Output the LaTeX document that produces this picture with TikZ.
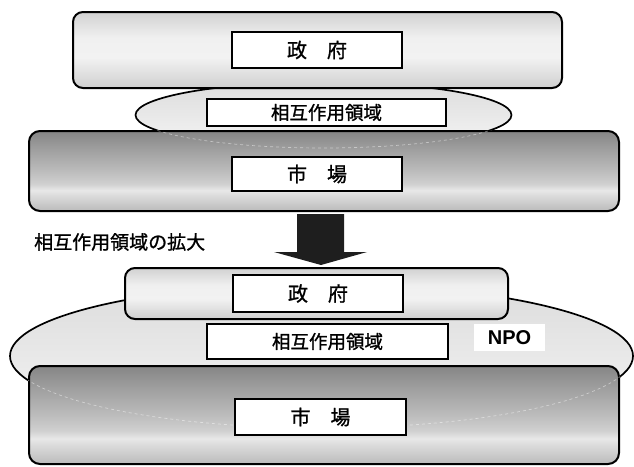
\documentclass[tikz,border=0pt]{standalone}
\usepackage{fontspec}
\usetikzlibrary{shapes.geometric}
\newfontfamily\jp{Noto Sans CJK JP}[FakeBold=1.2]
\newfontfamily\npofont{Liberation Sans}
\definecolor{gA}{HTML}{7E7E7E}
\definecolor{gB}{HTML}{9A9A9A}
\definecolor{gC}{HTML}{CFCFCF}
\definecolor{gD}{HTML}{F2F2F2}
\definecolor{gE}{HTML}{F0F0F0}
\definecolor{gF}{HTML}{CCCCCC}
\definecolor{gG}{HTML}{9A9A9A}
\definecolor{gH}{HTML}{747474}
\definecolor{mA}{HTML}{4A4A4A}
\definecolor{mB}{HTML}{5A5A5A}
\definecolor{mC}{HTML}{888888}
\definecolor{mD}{HTML}{BBBBBB}
\definecolor{mE}{HTML}{DCDCDC}
\definecolor{mF}{HTML}{E8E8E8}
\definecolor{mG}{HTML}{D0D0D0}
\definecolor{mH}{HTML}{BCBCBC}
\definecolor{mI}{HTML}{9C9C9C}
\definecolor{mJ}{HTML}{7A7A7A}
\definecolor{mK}{HTML}{555555}
\definecolor{mL}{HTML}{333333}
\definecolor{ellA}{HTML}{DCDCDC}
\definecolor{ellB}{HTML}{F5F5F5}
\definecolor{arrowc}{HTML}{1E1E1E}
\pgfdeclareverticalshading{govshade}{100bp}{color(0bp)=(gA); color(8bp)=(gB); color(25bp)=(gC); color(45bp)=(gD); color(58bp)=(gE); color(78bp)=(gF); color(92bp)=(gG); color(100bp)=(gH)}
\pgfdeclareverticalshading{mktshade}{100bp}{color(0bp)=(mA); color(4bp)=(mB); color(12bp)=(mC); color(25bp)=(mD); color(35bp)=(mE); color(38bp)=(mF); color(42bp)=(mG); color(50bp)=(mH); color(65bp)=(mI); color(80bp)=(mJ); color(93bp)=(mK); color(100bp)=(mL)}
\tikzset{
  govbar/.style={draw=black, line width=2pt, rounded corners=10pt, shading=govshade, rectangle, inner sep=0pt},
  mktbar/.style={draw=black, line width=2pt, rounded corners=11pt, shading=mktshade, rectangle, inner sep=0pt},
  ellip/.style={draw=black, line width=1.7pt, ellipse, top color=ellA, bottom color=ellB, inner sep=0pt},
  ghost/.style={draw=white, opacity=0.45, dashed, line width=0.7pt},
  labelbox/.style={draw=black, line width=2pt, fill=white, rectangle, inner sep=0pt},
  bigtext/.style={font=\jp\fontsize{20}{22}\selectfont},
  midtext/.style={font=\jp\fontsize{18.5}{20}\selectfont},
}
\begin{document}
\begin{tikzpicture}[x=1pt,y=-1pt]
\useasboundingbox (0,0) rectangle (634,466);
% ---- upper diagram ----
\node[ellip, minimum width=376, minimum height=66] (ell1) at (323.5,115) {};
\node[govbar, minimum width=489, minimum height=76] (gbar1) at (317.5,50) {};
\node[mktbar, minimum width=590, minimum height=80] (mbar1) at (324,171) {};
\begin{scope}
  \clip (mbar1.north west) rectangle (mbar1.south east);
  \draw[ghost] (ell1.center) ellipse [x radius=188, y radius=33];
\end{scope}
\node[labelbox, minimum width=170, minimum height=36, bigtext] (gov1) at (317,50) {政　府};
\node[labelbox, minimum width=239, minimum height=27, midtext] (inter1) at (326.5,112.5) {相互作用領域};
\node[labelbox, minimum width=170, minimum height=34, bigtext] (mkt1) at (317,174) {市　場};
% ---- arrow and caption ----
\node[midtext, anchor=west, inner sep=0pt, font=\jp\fontsize{19}{21}\selectfont] (cap) at (34,242) {相互作用領域の拡大};
\coordinate (atop) at (320.5,214);
\coordinate (atip) at (321,265);
\fill[arrowc] (297,214) -- (344,214) -- (344,252) -- (367,252) -- (atip) -- (274,252) -- (297,252) -- cycle;
% ---- lower diagram ----
\node[ellip, minimum width=623, minimum height=144] (ell2) at (321.5,356) {};
\node[govbar, minimum width=383, minimum height=51] (gbar2) at (316.5,293.5) {};
\node[mktbar, minimum width=590, minimum height=98] (mbar2) at (324,415) {};
\begin{scope}
  \clip (mbar2.north west) rectangle (mbar2.south east);
  \draw[ghost] (ell2.center) ellipse [x radius=311.5, y radius=72];
\end{scope}
\node[labelbox, minimum width=170, minimum height=37, bigtext] (gov2) at (318,293.5) {政　府};
\node[labelbox, minimum width=241, minimum height=35, midtext] (inter2) at (327.5,341.5) {相互作用領域};
\node[fill=white, minimum width=71, minimum height=27, inner sep=0pt, font=\npofont\bfseries\fontsize{20}{22}\selectfont] (npo) at (509.5,337.5) {NPO};
\node[labelbox, minimum width=171, minimum height=36, bigtext] (mkt2) at (320.5,417) {市　場};
\end{tikzpicture}
\end{document}
